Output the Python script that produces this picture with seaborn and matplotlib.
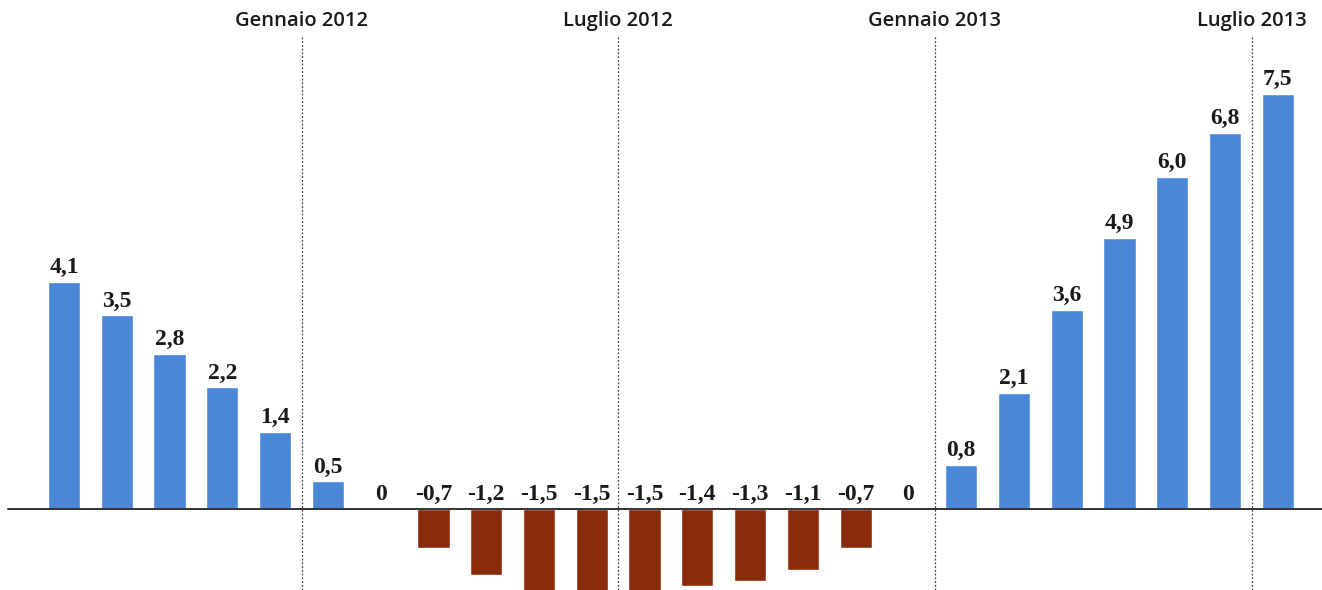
import matplotlib
matplotlib.use("Agg")
import matplotlib.pyplot as plt
import seaborn as sns
import pandas as pd

# Monthly variation, August 2011 - July 2013
months = ["ago-11", "set-11", "ott-11", "nov-11", "dic-11", "gen-12",
          "feb-12", "mar-12", "apr-12", "mag-12", "giu-12", "lug-12",
          "ago-12", "set-12", "ott-12", "nov-12", "dic-12", "gen-13",
          "feb-13", "mar-13", "apr-13", "mag-13", "giu-13", "lug-13"]
values = [4.1, 3.5, 2.8, 2.2, 1.4, 0.5, 0.0, -0.7, -1.2, -1.5, -1.5, -1.5,
          -1.4, -1.3, -1.1, -0.7, 0.0, 0.8, 2.1, 3.6, 4.9, 6.0, 6.8, 7.5]

# Period markers: placed at the left edge of the named month
marker_labels = ["Gennaio 2012", "Luglio 2012", "Gennaio 2013", "Luglio 2013"]
marker_months = ["gen-12", "lug-12", "gen-13", "lug-13"]

BLUE = "#4a87d6"
BROWN = "#8a2c0c"
INK = "#1a1a1a"

df = pd.DataFrame({"mese": months, "valore": values})
df["segno"] = ["pos" if v >= 0 else "neg" for v in values]

sns.set_theme(style="white")
fig = plt.figure(figsize=(13.22, 5.90), dpi=100)
ax = fig.add_axes([0, 0, 1, 1])

sns.barplot(data=df, x="mese", y="valore", hue="segno", order=months,
            palette={"pos": BLUE, "neg": BROWN}, dodge=False, width=0.61,
            saturation=1, legend=False, ax=ax)

ax.set_xlim(-1.213, 23.835)
ax.set_ylim(-1.465, 9.204)

# Zero line
ax.axhline(0, xmin=0.006, xmax=1, color="#333333", lw=1.4, zorder=3)

# Vertical dotted markers with their headings
for lab, m in zip(marker_labels, marker_months):
    xpos = months.index(m) - 0.5
    ax.plot([xpos, xpos], [-1.465, 8.58], color="#444444", lw=0.9,
            linestyle=(0, (1.5, 1.5)), zorder=1)
    ax.text(xpos, 8.73, lab, ha="center", va="baseline", fontsize=14.5,
            family="Open Sans", fontweight=600, color=INK)

# Value labels
for i, v in enumerate(values):
    txt = "0" if v == 0 else f"{v:.1f}".replace(".", ",")
    ypos = max(v, 0) + 0.16
    ax.text(i, ypos, txt, ha="center", va="baseline", fontsize=17,
            family="Liberation Serif", fontweight="bold", color=INK)

ax.set_axis_off()
fig.savefig("out.png", dpi=100, facecolor="white")
